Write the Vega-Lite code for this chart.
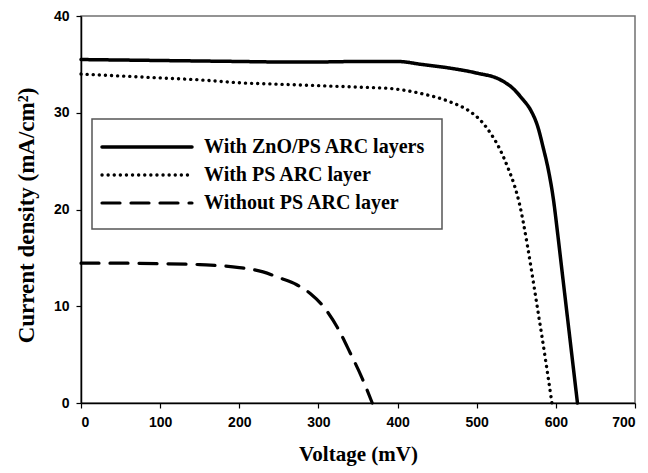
{
  "$schema": "https://vega.github.io/schema/vega-lite/v6.json",
  "width": 554,
  "height": 387,
  "autosize": "none",
  "padding": {"left": 81, "top": 16, "right": 13, "bottom": 70},
  "background": "white",
  "config": {"view": {"stroke": "#707070", "strokeWidth": 1.5}},
  "data": {"values": [
    {"series": "With ZnO/PS ARC layers", "V": 0, "J": 35.5},
    {"series": "With ZnO/PS ARC layers", "V": 50, "J": 35.45},
    {"series": "With ZnO/PS ARC layers", "V": 100, "J": 35.4},
    {"series": "With ZnO/PS ARC layers", "V": 150, "J": 35.35},
    {"series": "With ZnO/PS ARC layers", "V": 200, "J": 35.3},
    {"series": "With ZnO/PS ARC layers", "V": 250, "J": 35.25},
    {"series": "With ZnO/PS ARC layers", "V": 300, "J": 35.25},
    {"series": "With ZnO/PS ARC layers", "V": 350, "J": 35.3},
    {"series": "With ZnO/PS ARC layers", "V": 400, "J": 35.3},
    {"series": "With ZnO/PS ARC layers", "V": 430, "J": 35.0},
    {"series": "With ZnO/PS ARC layers", "V": 467, "J": 34.6},
    {"series": "With ZnO/PS ARC layers", "V": 500, "J": 34.1},
    {"series": "With ZnO/PS ARC layers", "V": 530, "J": 33.4},
    {"series": "With ZnO/PS ARC layers", "V": 546, "J": 32.5},
    {"series": "With ZnO/PS ARC layers", "V": 558, "J": 31.4},
    {"series": "With ZnO/PS ARC layers", "V": 568, "J": 30.3},
    {"series": "With ZnO/PS ARC layers", "V": 577, "J": 28.6},
    {"series": "With ZnO/PS ARC layers", "V": 584, "J": 26.4},
    {"series": "With ZnO/PS ARC layers", "V": 591, "J": 23.9},
    {"series": "With ZnO/PS ARC layers", "V": 597, "J": 21.0},
    {"series": "With ZnO/PS ARC layers", "V": 602, "J": 17.7},
    {"series": "With ZnO/PS ARC layers", "V": 607, "J": 14.2},
    {"series": "With ZnO/PS ARC layers", "V": 612, "J": 10.7},
    {"series": "With ZnO/PS ARC layers", "V": 617, "J": 7.2},
    {"series": "With ZnO/PS ARC layers", "V": 622, "J": 3.7},
    {"series": "With ZnO/PS ARC layers", "V": 627.3, "J": 0},
    {"series": "With PS ARC layer", "V": 0, "J": 34.0},
    {"series": "With PS ARC layer", "V": 50, "J": 33.8},
    {"series": "With PS ARC layer", "V": 100, "J": 33.6},
    {"series": "With PS ARC layer", "V": 150, "J": 33.4},
    {"series": "With PS ARC layer", "V": 200, "J": 33.1},
    {"series": "With PS ARC layer", "V": 250, "J": 32.95},
    {"series": "With PS ARC layer", "V": 300, "J": 32.8},
    {"series": "With PS ARC layer", "V": 350, "J": 32.65},
    {"series": "With PS ARC layer", "V": 391, "J": 32.5},
    {"series": "With PS ARC layer", "V": 429, "J": 32.0},
    {"series": "With PS ARC layer", "V": 467, "J": 31.1},
    {"series": "With PS ARC layer", "V": 492, "J": 30.1},
    {"series": "With PS ARC layer", "V": 505, "J": 29.2},
    {"series": "With PS ARC layer", "V": 513, "J": 28.4},
    {"series": "With PS ARC layer", "V": 530, "J": 26.1},
    {"series": "With PS ARC layer", "V": 540, "J": 24.2},
    {"series": "With PS ARC layer", "V": 548, "J": 22.4},
    {"series": "With PS ARC layer", "V": 554, "J": 20.6},
    {"series": "With PS ARC layer", "V": 559, "J": 18.6},
    {"series": "With PS ARC layer", "V": 564, "J": 16.3},
    {"series": "With PS ARC layer", "V": 570, "J": 13.3},
    {"series": "With PS ARC layer", "V": 576, "J": 10.2},
    {"series": "With PS ARC layer", "V": 582, "J": 7.1},
    {"series": "With PS ARC layer", "V": 588, "J": 3.9},
    {"series": "With PS ARC layer", "V": 595, "J": 0},
    {"series": "Without PS ARC layer", "V": 0, "J": 14.45},
    {"series": "Without PS ARC layer", "V": 50, "J": 14.45},
    {"series": "Without PS ARC layer", "V": 100, "J": 14.4},
    {"series": "Without PS ARC layer", "V": 150, "J": 14.3},
    {"series": "Without PS ARC layer", "V": 200, "J": 14.0},
    {"series": "Without PS ARC layer", "V": 230, "J": 13.55},
    {"series": "Without PS ARC layer", "V": 252, "J": 12.9},
    {"series": "Without PS ARC layer", "V": 272, "J": 12.25},
    {"series": "Without PS ARC layer", "V": 290, "J": 11.3},
    {"series": "Without PS ARC layer", "V": 306, "J": 10.0},
    {"series": "Without PS ARC layer", "V": 324, "J": 7.8},
    {"series": "Without PS ARC layer", "V": 340, "J": 5.2},
    {"series": "Without PS ARC layer", "V": 355, "J": 2.6},
    {"series": "Without PS ARC layer", "V": 368, "J": 0}
  ]},
  "mark": {"type": "line", "interpolate": "monotone", "strokeCap": "round", "color": "black"},
  "encoding": {
    "x": {
      "field": "V", "type": "quantitative",
      "scale": {"domain": [0, 700], "nice": false},
      "axis": {
        "title": "Voltage (mV)", "values": [0, 100, 200, 300, 400, 500, 600, 700],
        "grid": false, "domainColor": "black", "domainWidth": 1.5, "tickColor": "black", "tickWidth": 1.2, "tickSize": 5,
        "labelFont": "Liberation Sans", "labelFontWeight": "bold", "labelFontSize": 14, "labelColor": "black", "labelPadding": 7,
        "titleFont": "Liberation Serif", "titleFontWeight": "bold", "titleFontSize": 21, "titleColor": "black", "titlePadding": 14
      }
    },
    "y": {
      "field": "J", "type": "quantitative",
      "scale": {"domain": [0, 40], "nice": false},
      "axis": {
        "title": "Current density (mA/cm²)", "values": [0, 10, 20, 30, 40],
        "grid": false, "domainColor": "black", "domainWidth": 1.5, "tickColor": "black", "tickWidth": 1.2, "tickSize": 5,
        "labelFont": "Liberation Sans", "labelFontWeight": "bold", "labelFontSize": 14, "labelColor": "black", "labelPadding": 7,
        "titleFont": "Liberation Serif", "titleFontWeight": "bold", "titleFontSize": 23, "titleColor": "black",
        "titleX": -55, "titleY": 199, "titleAngle": -90, "titleAlign": "center", "titleBaseline": "middle"
      }
    },
    "strokeDash": {
      "field": "series", "type": "nominal",
      "scale": {"domain": ["With ZnO/PS ARC layers", "With PS ARC layer", "Without PS ARC layer"], "range": [[1, 0], [0.1, 6], [18, 11]]},
      "legend": {
        "title": null, "orient": "none", "legendX": 11, "legendY": 103,
        "symbolType": "M-4.5,0H4.5", "symbolSize": 400, "symbolStrokeColor": "black", "symbolOffset": 27,
        "labelFont": "Liberation Serif", "labelFontWeight": "bold", "labelFontSize": 20, "labelColor": "black",
        "labelOffset": 45, "labelLimit": 400, "padding": 16, "rowPadding": 6,
        "strokeColor": "#555", "fillColor": "white",
        "encode": {"symbols": {"update": {"strokeCap": {"value": "round"}}}, "legend": {"update": {"strokeWidth": {"value": 1.5}}}}
      }
    },
    "strokeWidth": {
      "field": "series", "type": "nominal",
      "scale": {"domain": ["With ZnO/PS ARC layers", "With PS ARC layer", "Without PS ARC layer"], "range": [3.5, 3.2, 4]},
      "legend": {
        "title": null, "orient": "none", "legendX": 11, "legendY": 103,
        "symbolType": "M-4.5,0H4.5", "symbolSize": 400, "symbolStrokeColor": "black", "symbolOffset": 27,
        "labelFont": "Liberation Serif", "labelFontWeight": "bold", "labelFontSize": 20, "labelColor": "black",
        "labelOffset": 45, "labelLimit": 400, "padding": 16, "rowPadding": 6,
        "strokeColor": "#555", "fillColor": "white",
        "encode": {"symbols": {"update": {"strokeCap": {"value": "round"}}}, "legend": {"update": {"strokeWidth": {"value": 1.5}}}}
      }
    }
  }
}
